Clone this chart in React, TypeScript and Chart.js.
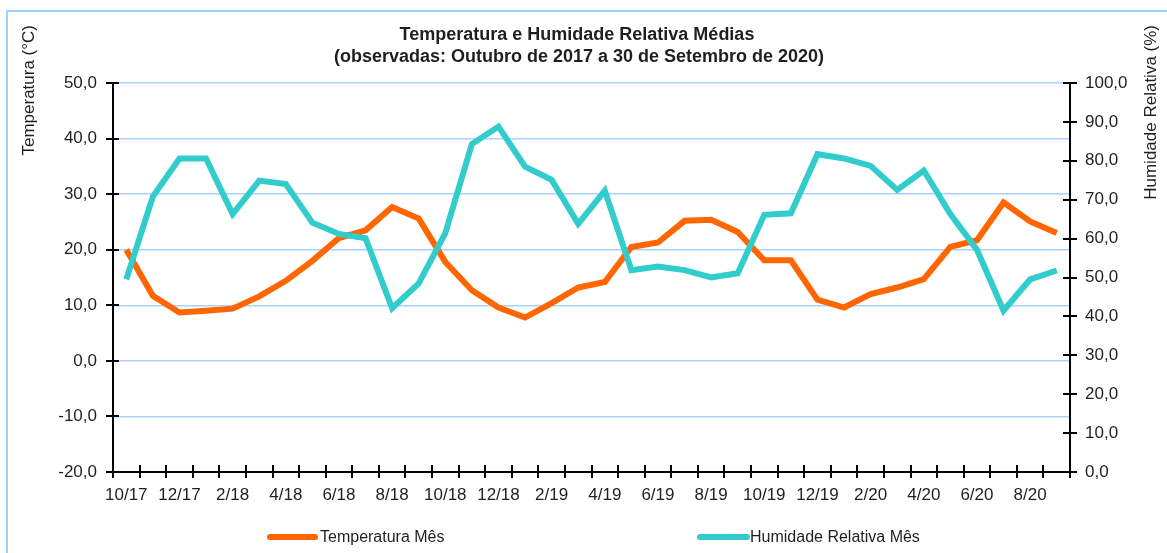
import React, { useEffect, useRef } from "react";
import { Chart, registerables } from "chart.js";

Chart.register(...registerables);

const months: string[] = [
  "10/17", "11/17", "12/17", "1/18", "2/18", "3/18", "4/18", "5/18", "6/18", "7/18", "8/18", "9/18",
  "10/18", "11/18", "12/18", "1/19", "2/19", "3/19", "4/19", "5/19", "6/19", "7/19", "8/19", "9/19",
  "10/19", "11/19", "12/19", "1/20", "2/20", "3/20", "4/20", "5/20", "6/20", "7/20", "8/20", "9/20",
];

const temperatura: number[] = [
  20.0, 11.7, 8.7, 9.0, 9.4, 11.6, 14.4, 18.0, 22.1, 23.5, 27.7, 25.6,
  17.8, 12.7, 9.6, 7.8, 10.4, 13.2, 14.2, 20.5, 21.3, 25.2, 25.4, 23.2,
  18.1, 18.1, 11.0, 9.6, 12.0, 13.2, 14.7, 20.5, 21.7, 28.5, 25.1, 23.0,
];

const humidade: number[] = [
  49.5, 70.8, 80.6, 80.6, 66.3, 74.9, 74.0, 64.1, 61.2, 60.1, 42.1, 48.5,
  61.4, 84.3, 88.8, 78.5, 75.1, 63.8, 72.3, 51.9, 52.8, 51.9, 50.0, 51.1,
  66.1, 66.5, 81.7, 80.6, 78.7, 72.5, 77.5, 66.3, 57.1, 41.5, 49.5, 51.8,
];

const titleLines: string[] = [
  "Temperatura e Humidade Relativa Médias",
  "(observadas: Outubro de 2017 a 30 de Setembro de 2020)",
];
const leftAxisTitle = "Temperatura (°C)";
const rightAxisTitle = "Humidade Relativa (%)";
const seriesNames: string[] = ["Temperatura Mês", "Humidade Relativa Mês"];

const ORANGE = "#FF6600";
const CYAN = "#33CCCC";
const GRID = "#A9D3FF";
const FRAME = "#9FD0FF";
const TEXT = "#1f1f1f";
const FONT = "'Liberation Sans', Arial, sans-serif";

const fmt = (v: number | string) => Number(v).toFixed(1).replace(".", ",");

const decor = {
  id: "decor",
  beforeDraw(chart: any) {
    const ctx = chart.ctx;
    ctx.save();
    ctx.fillStyle = "#ffffff";
    ctx.fillRect(0, 0, chart.width, chart.height);
    ctx.strokeStyle = FRAME;
    ctx.lineWidth = 2;
    ctx.beginPath();
    ctx.moveTo(7, chart.height);
    ctx.lineTo(7, 11);
    ctx.lineTo(chart.width, 11);
    ctx.stroke();
    ctx.restore();
  },
  afterDatasetsDraw(chart: any) {
    const ctx = chart.ctx;
    const { left, right, top, bottom } = chart.chartArea;
    const y = chart.scales.y;
    const y1 = chart.scales.y1;
    const x = chart.scales.x;
    ctx.save();
    ctx.strokeStyle = "#000";
    ctx.lineWidth = 2;
    ctx.beginPath();
    ctx.moveTo(left, top);
    ctx.lineTo(left, bottom);
    ctx.lineTo(right, bottom);
    ctx.lineTo(right, top);
    y.ticks.forEach((t: any) => {
      const py = Math.round(y.getPixelForValue(t.value));
      ctx.moveTo(left - 7, py);
      ctx.lineTo(left + 6, py);
    });
    y1.ticks.forEach((t: any) => {
      const py = Math.round(y1.getPixelForValue(t.value));
      ctx.moveTo(right - 7, py);
      ctx.lineTo(right + 7, py);
    });
    const n = months.length;
    const step = (x.right - x.left) / n;
    for (let k = 0; k <= n; k++) {
      const px = Math.round(x.left + k * step);
      ctx.moveTo(px, bottom - 7);
      ctx.lineTo(px, bottom + 6);
    }
    ctx.stroke();

    ctx.fillStyle = TEXT;
    ctx.textAlign = "center";
    ctx.textBaseline = "alphabetic";
    ctx.font = `bold 18px ${FONT}`;
    ctx.fillText(titleLines[0], 577, 39.5);
    ctx.fillText(titleLines[1], 579, 62);

    ctx.font = `17px ${FONT}`;
    ctx.save();
    ctx.translate(34, 25);
    ctx.rotate(-Math.PI / 2);
    ctx.textAlign = "right";
    ctx.fillText(leftAxisTitle, 0, 0);
    ctx.restore();

    ctx.save();
    ctx.translate(1156, 25);
    ctx.rotate(-Math.PI / 2);
    ctx.textAlign = "right";
    ctx.fillText(rightAxisTitle, 0, 0);
    ctx.restore();

    const legend = [
      { name: seriesNames[0], color: ORANGE, x0: 270, x1: 315, tx: 320 },
      { name: seriesNames[1], color: CYAN, x0: 700, x1: 747, tx: 750 },
    ];
    ctx.lineCap = "round";
    ctx.lineWidth = 6;
    ctx.font = `16px ${FONT}`;
    ctx.textAlign = "left";
    legend.forEach((l) => {
      ctx.strokeStyle = l.color;
      ctx.beginPath();
      ctx.moveTo(l.x0, 537);
      ctx.lineTo(l.x1, 537);
      ctx.stroke();
      ctx.fillText(l.name, l.tx, 542);
    });
    ctx.restore();
  },
};

export default function App() {
  const ref = useRef<HTMLCanvasElement | null>(null);
  useEffect(() => {
    if (!ref.current) return;
    const chart = new Chart(ref.current, {
      type: "line",
      data: {
        labels: months,
        datasets: [
          {
            label: seriesNames[0],
            data: temperatura,
            yAxisID: "y",
            borderColor: ORANGE,
            backgroundColor: ORANGE,
            borderWidth: 6,
            pointRadius: 0,
            tension: 0,
            order: 1,
          },
          {
            label: seriesNames[1],
            data: humidade,
            yAxisID: "y1",
            borderColor: CYAN,
            backgroundColor: CYAN,
            borderWidth: 6,
            pointRadius: 0,
            tension: 0,
            order: 0,
          },
        ],
      },
      options: {
        responsive: false,
        animation: false,
        devicePixelRatio: 1,
        layout: { padding: { top: 83, bottom: 0, left: 0, right: 0 } },
        plugins: {
          legend: { display: false },
          title: { display: false },
          tooltip: { enabled: false },
        },
        scales: {
          x: {
            type: "category",
            offset: true,
            grid: { display: false },
            border: { display: false },
            ticks: {
              autoSkip: false,
              maxRotation: 0,
              minRotation: 0,
              padding: 5,
              color: TEXT,
              font: { family: FONT, size: 17 },
              callback: (_v: any, i: number) => (i % 2 === 0 ? months[i] : ""),
            },
            afterFit: (s: any) => {
              s.height = 81;
            },
          },
          y: {
            position: "left",
            min: -20,
            max: 50,
            ticks: {
              stepSize: 10,
              padding: 16,
              color: TEXT,
              font: { family: FONT, size: 17 },
              callback: (v: any) => fmt(v),
            },
            grid: { color: GRID, lineWidth: 1.5, drawTicks: false },
            border: { display: false },
            afterFit: (s: any) => {
              s.width = 113;
            },
          },
          y1: {
            position: "right",
            min: 0,
            max: 100,
            ticks: {
              stepSize: 10,
              padding: 15,
              color: TEXT,
              font: { family: FONT, size: 17 },
              callback: (v: any) => fmt(v),
            },
            grid: { display: false, drawTicks: false },
            border: { display: false },
            afterFit: (s: any) => {
              s.width = 97;
            },
          },
        },
      },
      plugins: [decor],
    });
    return () => chart.destroy();
  }, []);

  return (
    <div style={{ position: "fixed", left: 0, top: 0, width: 1167, height: 553, background: "#fff" }}>
      <canvas ref={ref} width={1167} height={553} style={{ display: "block", width: 1167, height: 553 }} />
    </div>
  );
}
